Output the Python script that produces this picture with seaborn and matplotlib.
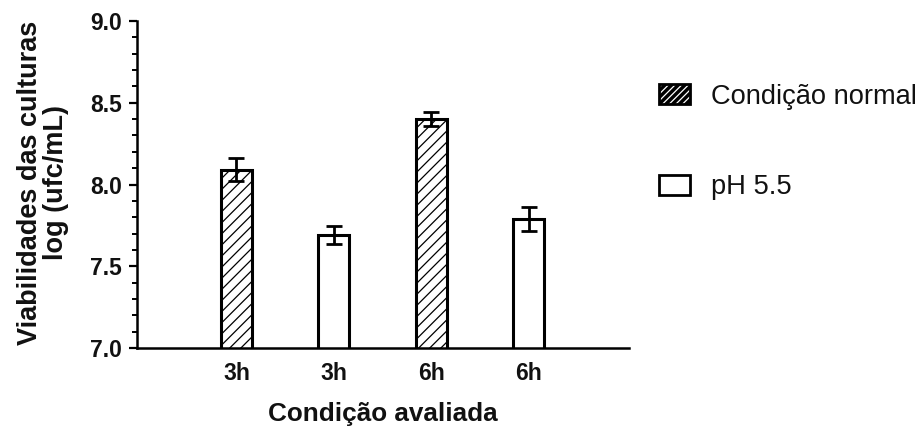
import matplotlib
matplotlib.use("Agg")
import matplotlib.pyplot as plt
import matplotlib.patches as mpatches
from matplotlib.legend_handler import HandlerTuple
from matplotlib.ticker import MultipleLocator, FormatStrFormatter
import pandas as pd
import seaborn as sns

# Viabilidade (log ufc/mL) por condição e tempo de exposição
tempos = ["3h", "3h", "6h", "6h"]
condicoes = ["Condição normal", "pH 5.5", "Condição normal", "pH 5.5"]
medias = [8.09, 7.69, 8.40, 7.79]
desvios = [0.07, 0.055, 0.045, 0.075]

sns.set_theme(style="ticks")
plt.rcParams["font.family"] = ["Liberation Sans", "DejaVu Sans"]
plt.rcParams["text.color"] = "#111111"
plt.rcParams["axes.labelcolor"] = "#111111"
plt.rcParams["hatch.linewidth"] = 0.9
plt.rcParams["hatch.color"] = "black"

df = pd.DataFrame({
    "grupo": list(range(len(tempos))),
    "tempo": tempos,
    "condicao": condicoes,
    "media": medias,
    "desvio": desvios,
})

fig = plt.figure(figsize=(9.21, 4.32), dpi=100)
ax = fig.add_axes([0.1488, 0.1944, 0.534, 0.757])

sns.barplot(
    data=df, x="grupo", y="media", hue="condicao",
    hue_order=["Condição normal", "pH 5.5"],
    palette={"Condição normal": "white", "pH 5.5": "white"},
    width=0.32, dodge=False, errorbar=None, legend=False,
    edgecolor="black", linewidth=2.2, ax=ax,
)

for p in ax.patches:
    i = int(round(p.get_x() + p.get_width() / 2))
    if condicoes[i] == "Condição normal":
        p.set_hatch("///")
    p.set_zorder(2)

centros = sorted(p.get_x() + p.get_width() / 2 for p in ax.patches)
ax.errorbar(centros, df["media"], yerr=df["desvio"], fmt="none",
            ecolor="black", elinewidth=2.0, capsize=6, capthick=2.0, zorder=3)

ax.set_ylim(7.0, 9.0)
ax.set_xlim(-1.02, 4.03)
ax.yaxis.set_major_locator(MultipleLocator(0.5))
ax.yaxis.set_minor_locator(MultipleLocator(0.1))
ax.yaxis.set_major_formatter(FormatStrFormatter("%.1f"))
ax.set_xticks(centros)
ax.set_xticklabels(tempos)

sns.despine(ax=ax)
for s in ("left", "bottom"):
    ax.spines[s].set_linewidth(1.8)
    ax.spines[s].set_color("black")

ax.tick_params(axis="y", which="major", length=6, width=1.6, pad=5,
               labelsize=16.5, colors="black", labelcolor="#111111")
ax.tick_params(axis="y", which="minor", length=3.5, width=1.4, colors="black")
ax.tick_params(axis="x", length=0, pad=10, labelsize=16.5, labelcolor="#111111")
for lab in ax.get_xticklabels() + ax.get_yticklabels():
    lab.set_fontweight("bold")

ax.set_xlabel("Condição avaliada", fontsize=18.8, fontweight="bold", labelpad=12)
ax.set_ylabel("Viabilidades das culturas\nlog (ufc/mL)", fontsize=19.5,
              fontweight="bold", linespacing=1.03)
ax.yaxis.set_label_coords(-0.138, 0.505)

# Legenda
h_normal = (
    mpatches.Patch(facecolor="black", edgecolor="black", linewidth=0),
    mpatches.Patch(facecolor="none", edgecolor="white", hatch="/////", linewidth=0),
    mpatches.Patch(facecolor="none", edgecolor="black", linewidth=2.0),
)
h_ph = mpatches.Patch(facecolor="white", edgecolor="black", linewidth=2.0)
fig.legend(
    [h_normal, h_ph], ["Condição normal", "pH 5.5"],
    handler_map={tuple: HandlerTuple(ndivide=1, pad=0)},
    loc="upper left", bbox_to_anchor=(0.716, 0.806), frameon=False,
    fontsize=19.6, handlelength=1.14, handleheight=0.74, handletextpad=0.74,
    labelspacing=2.37, borderpad=0, borderaxespad=0,
)

fig.savefig("out.png", dpi=100, facecolor="white")
